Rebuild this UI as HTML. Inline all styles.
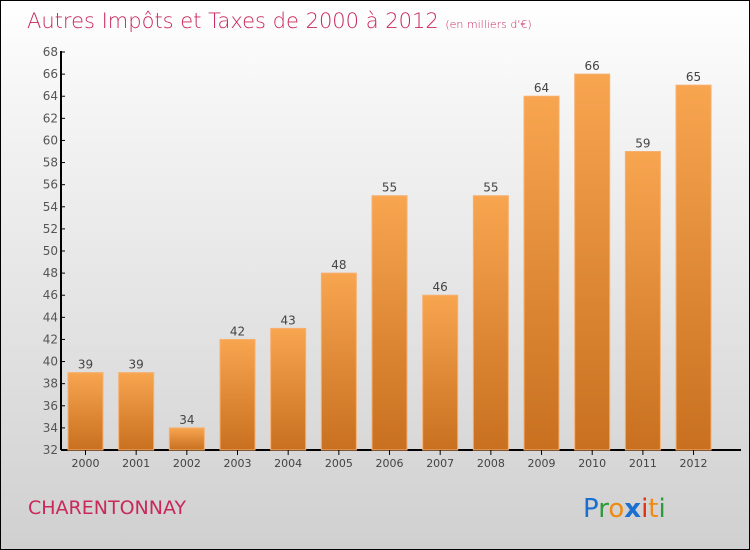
<!DOCTYPE html>
<html><head><meta charset="utf-8"><style>
body{margin:0}
#c{position:relative;width:748px;height:548px;border:1px solid #000;background:linear-gradient(#ffffff,#f4f4f4 20%,#d0d0d0);font-family:"DejaVu Sans","Liberation Sans",sans-serif;overflow:hidden}
</style></head><body>
<div id="c">
<svg id="s" width="748" height="548" style="position:absolute;left:0;top:0">
<defs><linearGradient id="g" x1="0" y1="0" x2="0" y2="1"><stop offset="0" stop-color="#f8a550"/><stop offset="1" stop-color="#c8701f"/></linearGradient></defs>
<text x="26" y="27" font-size="21" fill="#c8285a" font-weight="200">Autres Impôts et Taxes de 2000 à 2012 <tspan font-size="11">(en milliers d'€)</tspan></text>
<text x="27" y="513" font-size="19" fill="#c8285a">CHARENTONNAY</text>
<g font-size="26" font-family="'DejaVu Sans',sans-serif">
<text x="582" y="516"><tspan fill="#1a6fd0">P</tspan><tspan fill="#2e9a3a">r</tspan><tspan fill="#f08a10">o</tspan><tspan fill="#1a6fd0" font-weight="bold">x</tspan><tspan fill="#e03010">i</tspan><tspan fill="#f08a10">t</tspan><tspan fill="#2e9a3a">i</tspan></text></g>
<g id="plot"></g>
</svg>
</div>
<script>
const categories=["2000","2001","2002","2003","2004","2005","2006","2007","2008","2009","2010","2011","2012"];
const values=[39,39,34,42,43,48,55,46,55,64,66,59,65];
const yTicks=[32,34,36,38,40,42,44,46,48,50,52,54,56,58,60,62,64,66,68];
const NS="http://www.w3.org/2000/svg";
const p=document.getElementById('plot');
const y=v=>449-(v-32)*(398/36);
const x=i=>84.5+i*50.67;
function mk(t,a){const e=document.createElementNS(NS,t);for(const k in a)e.setAttribute(k,a[k]);p.appendChild(e);return e;}
let ax=mk('line',{x1:60,y1:50,x2:60,y2:449,stroke:'#000','stroke-width':2});


let bx=mk('line',{x1:60,y1:449,x2:740,y2:449,stroke:'#000','stroke-width':2});


yTicks.forEach(t=>{
 const tk=mk('line',{x1:60,x2:64,y1:y(t),y2:y(t),stroke:'#000'});
 
 
 const l=mk('text',{x:57,y:y(t)+4,'text-anchor':'end','font-size':12,fill:'#555'});
 l.textContent=t;
 
 
});
values.forEach((v,i)=>{
 const r=mk('rect',{x:x(i)-17.5,y:y(v),width:35,height:449-y(v),fill:'url(#g)',stroke:'#f7b070','stroke-width':1});
 
 
 const t=mk('text',{x:x(i),y:y(v)-4,'text-anchor':'middle','font-size':12,fill:'#444'});
 t.textContent=v;
 
 
 const tk=mk('line',{x1:x(i),x2:x(i),y1:449,y2:454,stroke:'#000'});
 
 
 const c=mk('text',{x:x(i),y:466,'text-anchor':'middle','font-size':11,fill:'#444'});
 c.textContent=categories[i];
 
 
});
</script>
</body></html>
